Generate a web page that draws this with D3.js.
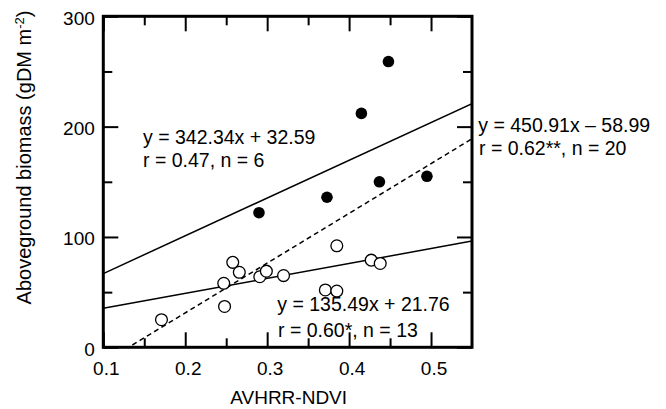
<!DOCTYPE html>
<html>
<head>
<meta charset="utf-8">
<script src="https://cdn.jsdelivr.net/npm/d3@7"></script>
<style>
  body { margin: 0; background: #fff; }
  svg text { font-family: "Liberation Sans", Arial, Helvetica, sans-serif; fill: #000; }
</style>
</head>
<body>
<svg id="chart" width="666" height="409"></svg>
<script>
// Sites shown with filled symbols
const filledNdvi    = [0.290, 0.373, 0.415, 0.448, 0.437, 0.495];
const filledBiomass = [122, 136, 212, 259, 150, 155];

// Sites shown with open symbols
const openNdvi    = [0.171, 0.247, 0.248, 0.258, 0.266, 0.291, 0.299, 0.320, 0.385, 0.371, 0.385, 0.427, 0.438];
const openBiomass = [25, 58, 37, 77, 68, 64, 69, 65, 92, 52, 51, 79, 76];

// Linear fits: filled sites, all sites, open sites
const fitSlopes     = [342.34, 450.91, 135.49];
const fitIntercepts = [32.59, -58.99, 21.76];
const fitEquations  = ["y = 342.34x + 32.59", "y = 450.91x \u2013 58.99", "y = 135.49x + 21.76"];
const fitStats      = ["r = 0.47, n = 6", "r = 0.62**, n = 20", "r = 0.60*, n = 13"];

// Axis ticks
const xMajorTicks = [0.1, 0.2, 0.3, 0.4, 0.5];
const xMinorTicks = [0.15, 0.25, 0.35, 0.45];
const yMajorTicks = [0, 100, 200, 300];
const yMinorTicks = [50, 150, 250];

// Layout
const plot = { left: 103.3, right: 472, top: 16.3, bottom: 347.3 };
const fitStyle = [
  { dash: null,  eq: [143, 143.5], st: [143, 166.7] },
  { dash: "5,3.5", eq: [478.3, 131.7], st: [479, 155] },
  { dash: null,  eq: [277.3, 310.7], st: [278, 336.7] }
];

const svg = d3.select("#chart");

const x = d3.scaleLinear().domain([0.1, 0.55]).range([plot.left, plot.right]);
const y = d3.scaleLinear().domain([0, 300]).range([plot.bottom, plot.top]);

svg.append("defs").append("clipPath").attr("id", "plot-clip")
  .append("rect")
  .attr("x", plot.left).attr("y", plot.top)
  .attr("width", plot.right - plot.left).attr("height", plot.bottom - plot.top);

// Regression lines
const lineGen = d3.line().x(d => x(d[0])).y(d => y(d[1]));
const fitLayer = svg.append("g").attr("clip-path", "url(#plot-clip)");
fitSlopes.forEach((m, i) => {
  const b = fitIntercepts[i];
  const pts = x.domain().map(v => [v, m * v + b]);
  fitLayer.append("path")
    .attr("d", lineGen(pts))
    .attr("fill", "none")
    .attr("stroke", "#000")
    .attr("stroke-width", 1.5)
    .attr("stroke-dasharray", fitStyle[i].dash);
});

// Markers
const openPts = openNdvi.map((v, i) => [v, openBiomass[i]]);
const filledPts = filledNdvi.map((v, i) => [v, filledBiomass[i]]);

svg.append("g").selectAll("circle").data(openPts).join("circle")
  .attr("cx", d => x(d[0])).attr("cy", d => y(d[1])).attr("r", 5.9)
  .attr("fill", "#fff").attr("stroke", "#000").attr("stroke-width", 1.3);

svg.append("g").selectAll("circle").data(filledPts).join("circle")
  .attr("cx", d => x(d[0])).attr("cy", d => y(d[1])).attr("r", 5.8)
  .attr("fill", "#000");

// Axes: inward ticks on all four sides
function styleAxis(g) {
  g.select(".domain").remove();
  g.selectAll(".tick line").attr("stroke", "#000").attr("stroke-width", 2);
  g.attr("font-family", null).attr("font-size", null);
}

const major = 15, minor = 9;

svg.append("g").attr("transform", `translate(0,${plot.bottom})`)
  .call(d3.axisBottom(x).tickValues(xMajorTicks).tickSizeInner(-major).tickSizeOuter(0).tickFormat(d3.format(".1f")))
  .call(styleAxis)
  .call(g => g.selectAll(".tick text")
    .attr("y", 28.2).attr("dy", null).attr("dx", 2.5)
    .style("font-size", "19px"));

svg.append("g").attr("transform", `translate(0,${plot.bottom})`)
  .call(d3.axisBottom(x).tickValues(xMinorTicks).tickSizeInner(-minor).tickSizeOuter(0).tickFormat(""))
  .call(styleAxis);

svg.append("g").attr("transform", `translate(0,${plot.top})`)
  .call(d3.axisTop(x).tickValues(xMajorTicks).tickSizeInner(-major).tickSizeOuter(0).tickFormat(""))
  .call(styleAxis);

svg.append("g").attr("transform", `translate(0,${plot.top})`)
  .call(d3.axisTop(x).tickValues(xMinorTicks).tickSizeInner(-minor).tickSizeOuter(0).tickFormat(""))
  .call(styleAxis);

svg.append("g").attr("transform", `translate(${plot.left},0)`)
  .call(d3.axisLeft(y).tickValues(yMajorTicks).tickSizeInner(-major).tickSizeOuter(0))
  .call(styleAxis)
  .call(g => g.selectAll(".tick text")
    .attr("x", -8.5).attr("dy", null).attr("y", 8)
    .style("font-size", "19px"));

svg.append("g").attr("transform", `translate(${plot.left},0)`)
  .call(d3.axisLeft(y).tickValues(yMinorTicks).tickSizeInner(-minor).tickSizeOuter(0).tickFormat(""))
  .call(styleAxis);

svg.append("g").attr("transform", `translate(${plot.right},0)`)
  .call(d3.axisRight(y).tickValues(yMajorTicks).tickSizeInner(-major).tickSizeOuter(0).tickFormat(""))
  .call(styleAxis);

svg.append("g").attr("transform", `translate(${plot.right},0)`)
  .call(d3.axisRight(y).tickValues(yMinorTicks).tickSizeInner(-minor).tickSizeOuter(0).tickFormat(""))
  .call(styleAxis);

// Plot frame
svg.append("rect")
  .attr("x", plot.left).attr("y", plot.top)
  .attr("width", plot.right - plot.left).attr("height", plot.bottom - plot.top)
  .attr("fill", "none").attr("stroke", "#000").attr("stroke-width", 3);

// Axis titles
svg.append("text")
  .attr("x", (plot.left + plot.right) / 2 + 1).attr("y", 404)
  .attr("text-anchor", "middle").style("font-size", "19px")
  .text("AVHRR-NDVI");

const yTitle = svg.append("text")
  .attr("transform", "translate(31,157.5) rotate(-90)")
  .attr("text-anchor", "middle").style("font-size", "20px");
yTitle.append("tspan").text("Aboveground biomass (gDM m");
yTitle.append("tspan").attr("dy", -7).style("font-size", "13px").text("-2");
yTitle.append("tspan").attr("dy", 7).text(")");

// Fit annotations
fitEquations.forEach((eq, i) => {
  const s = fitStyle[i];
  svg.append("text").attr("x", s.eq[0]).attr("y", s.eq[1]).style("font-size", "19.5px").text(eq);
  svg.append("text").attr("x", s.st[0]).attr("y", s.st[1]).style("font-size", "19.5px").text(fitStats[i]);
});
</script>
</body>
</html>
